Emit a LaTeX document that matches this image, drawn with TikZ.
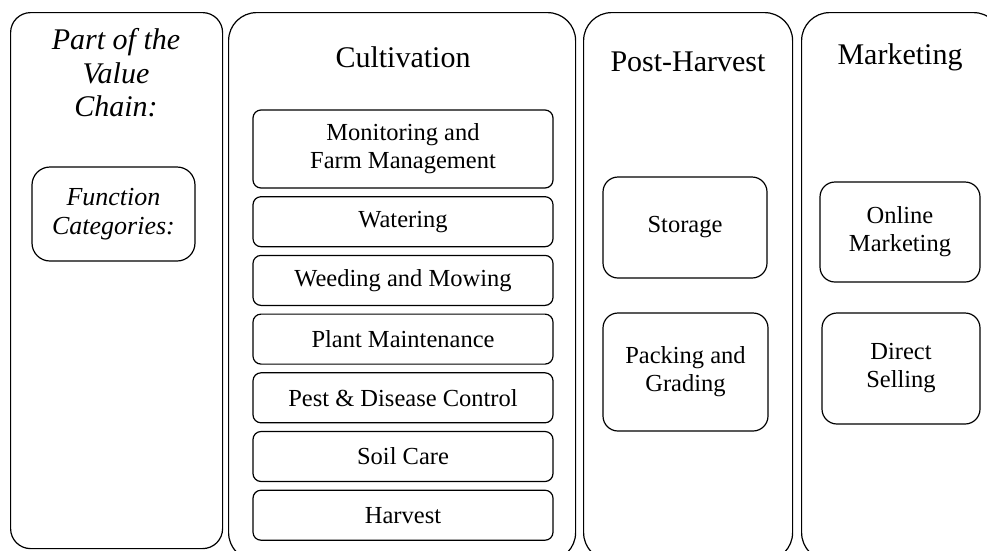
\documentclass[tikz,border=0pt]{standalone}
\usepackage{fontspec}
\setmainfont{Liberation Serif}
\usetikzlibrary{positioning}

\begin{document}
\begin{tikzpicture}
    [
    x=1pt, y=-1pt,
    every node/.style={line width=1.2pt, inner sep=0pt, align=center},
    column/.style={draw, anchor=north west, rounded corners=28pt},
    head/.style={font=\fontsize{30}{33}\selectfont},
    task/.style={draw, rounded corners=8pt, minimum width=300pt, minimum height=50pt,
      font=\fontsize{24.5}{28}\selectfont},
    card/.style={draw, rounded corners=15pt, font=\fontsize{24.5}{28}\selectfont},
    ]
    \useasboundingbox (0,0) rectangle (987,550);
    \clip (0,0) rectangle (987,550);

    % the four parts of the chain
    \node[column, rounded corners=20pt, minimum width=212pt, minimum height=536pt] (legend) at (10,12) {};
    \node[column, minimum width=347pt, minimum height=548pt] (cult) at (228,12) {};
    \node[column, minimum width=209pt, minimum height=548pt] (post) at (583,12) {};
    \node[column, minimum width=200pt, minimum height=548pt] (market) at (801,12) {};

    % headings
    \node[head, font=\fontsize{30}{33.5}\selectfont\itshape] (legendhead) at (116,73) {Part of the\\Value\\Chain:};
    \node[head] (culthead) at (403,57) {Cultivation};
    \node[head] (posthead) at (688,62) {Post-Harvest};
    \node[head] (markethead) at (900,57) {Marketing};

    \node[card, rounded corners=18pt, minimum width=163pt, minimum height=94pt,
      font=\fontsize{26}{29}\selectfont\itshape] (fcat) at (113.5,214) {Function\\Categories:};

    % cultivation
    \node[task, minimum height=78pt] (monitor) at (403,149) {Monitoring and\\Farm Management};
    \node[task, below=7.5pt of monitor] (water) {Watering};
    \node[task, below=7.5pt of water] (weed) {Weeding and Mowing};
    \node[task, below=7.5pt of weed] (plant) {Plant Maintenance};
    \node[task, below=7.5pt of plant] (pest) {Pest \& Disease Control};
    \node[task, below=7.5pt of pest] (soil) {Soil Care};
    \node[task, below=7.5pt of soil] (harvest) {Harvest};

    % post-harvest
    \node[card, minimum width=164pt, minimum height=101pt] (storage) at (685,227.5) {Storage};
    \node[card, minimum width=165pt, minimum height=118pt] (packing) at (685.5,372) {Packing and\\Grading};

    % marketing
    \node[card, minimum width=160pt, minimum height=100pt] (online) at (900,232) {Online\\Marketing};
    \node[card, minimum width=158pt, minimum height=111pt] (direct) at (901,368.5) {Direct\\Selling};
  \end{tikzpicture}
\end{document}
